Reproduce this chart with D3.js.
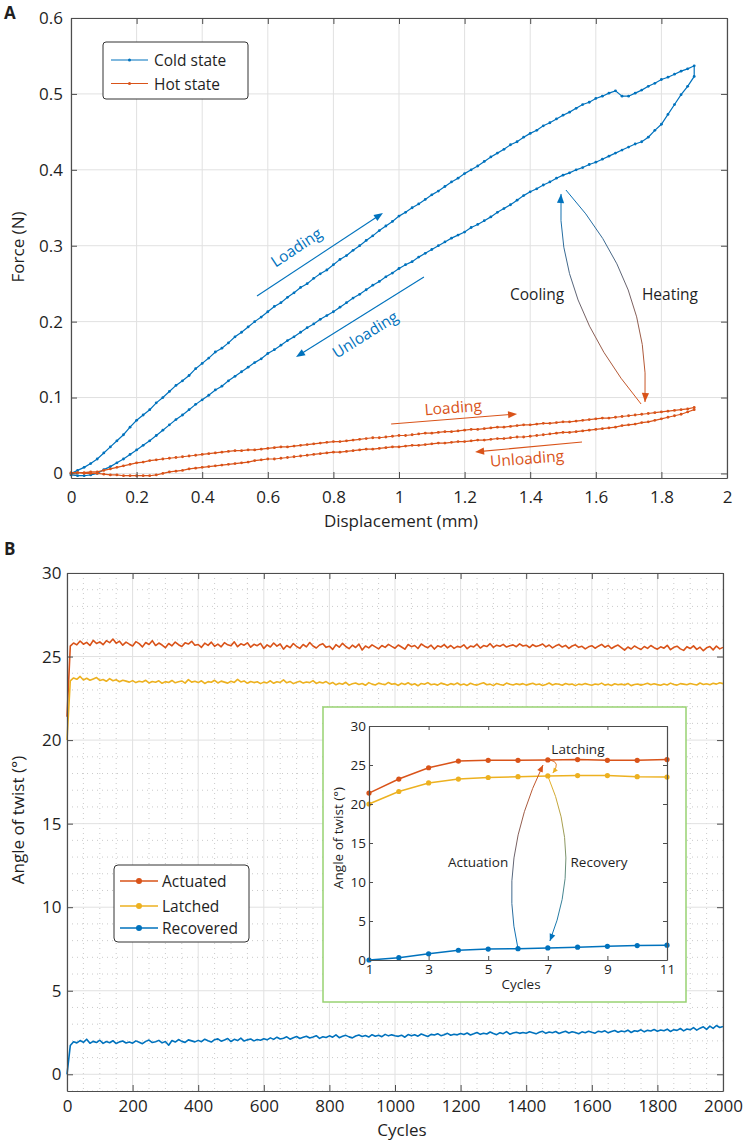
<!DOCTYPE html>
<html>
<head>
<meta charset="utf-8">
<script src="https://cdn.jsdelivr.net/npm/d3@7"></script>
<style>
  body { margin: 0; background: #fff; }
  svg { display: block; font-family: "Open Sans", sans-serif; }
</style>
</head>
<body>
<svg id="chart" width="746" height="1145"></svg>
<script>
// ---- Panel A : force vs displacement ----
var dispA = [0,0.02,0.04,0.06,0.08,0.1,0.12,0.14,0.16,0.18,0.2,0.22,0.24,0.26,0.28,0.3,0.32,0.34,0.36,0.38,
  0.4,0.42,0.44,0.46,0.48,0.5,0.52,0.54,0.56,0.58,0.6,0.62,0.64,0.66,0.68,0.7,0.72,0.74,0.76,0.78,
  0.8,0.82,0.84,0.86,0.88,0.9,0.92,0.94,0.96,0.98,1,1.02,1.04,1.06,1.08,1.1,1.12,1.14,1.16,1.18,
  1.2,1.22,1.24,1.26,1.28,1.3,1.32,1.34,1.36,1.38,1.4,1.42,1.44,1.46,1.48,1.5,1.52,1.54,1.56,1.58,
  1.6,1.62,1.64,1.66,1.68,1.7,1.72,1.74,1.76,1.78,1.8,1.82,1.84,1.86,1.88,1.9];

var coldLoad = [0.000,0.004,0.008,0.013,0.019,0.027,0.035,0.043,0.051,0.061,
  0.070,0.077,0.084,0.093,0.100,0.108,0.116,0.122,0.129,0.138,
  0.145,0.152,0.160,0.165,0.172,0.180,0.186,0.193,0.200,0.206,
  0.213,0.220,0.225,0.232,0.238,0.245,0.250,0.257,0.263,0.268,
  0.275,0.282,0.287,0.294,0.300,0.307,0.313,0.320,0.326,0.332,
  0.339,0.344,0.350,0.355,0.361,0.367,0.372,0.378,0.384,0.389,
  0.395,0.400,0.405,0.411,0.417,0.422,0.427,0.433,0.437,0.443,
  0.448,0.452,0.458,0.462,0.467,0.472,0.476,0.481,0.486,0.489,
  0.494,0.497,0.501,0.504,0.497,0.497,0.501,0.505,0.510,0.514,
  0.519,0.522,0.526,0.530,0.533,0.537];

var coldUnload = [-0.002,-0.003,-0.003,-0.002,0.000,0.005,0.009,0.014,0.019,0.025,
  0.031,0.037,0.043,0.050,0.057,0.064,0.071,0.077,0.084,0.091,
  0.097,0.103,0.110,0.115,0.122,0.128,0.134,0.140,0.146,0.151,
  0.158,0.163,0.169,0.175,0.180,0.186,0.192,0.197,0.203,0.208,
  0.213,0.219,0.225,0.231,0.236,0.242,0.248,0.253,0.259,0.264,
  0.270,0.275,0.279,0.285,0.290,0.295,0.300,0.305,0.310,0.314,
  0.318,0.324,0.328,0.333,0.338,0.344,0.349,0.354,0.360,0.366,
  0.371,0.375,0.380,0.384,0.389,0.393,0.396,0.400,0.403,0.407,
  0.410,0.414,0.418,0.422,0.426,0.430,0.434,0.437,0.443,0.452,
  0.460,0.473,0.486,0.499,0.510,0.523];

var hotLoad = [0.000,0.001,0.001,0.002,0.002,0.004,0.006,0.008,0.010,0.012,
  0.014,0.015,0.017,0.018,0.019,0.020,0.021,0.022,0.023,0.024,
  0.025,0.026,0.027,0.028,0.029,0.030,0.030,0.031,0.031,0.032,
  0.033,0.034,0.035,0.035,0.036,0.037,0.038,0.039,0.040,0.041,
  0.042,0.042,0.043,0.044,0.045,0.046,0.047,0.047,0.048,0.049,
  0.050,0.050,0.051,0.052,0.053,0.053,0.054,0.055,0.055,0.056,
  0.057,0.058,0.058,0.059,0.060,0.061,0.061,0.062,0.063,0.064,
  0.064,0.065,0.066,0.066,0.067,0.068,0.068,0.069,0.070,0.071,
  0.072,0.073,0.073,0.074,0.075,0.076,0.077,0.078,0.079,0.080,
  0.081,0.082,0.083,0.084,0.085,0.087];

var hotUnload = [0.001,0.001,0.000,0.000,0.000,-0.001,-0.002,-0.002,-0.003,-0.003,
  -0.003,-0.003,-0.003,-0.002,0.000,0.002,0.003,0.004,0.006,0.007,
  0.008,0.009,0.010,0.011,0.012,0.013,0.014,0.015,0.017,0.018,
  0.019,0.019,0.020,0.021,0.022,0.023,0.024,0.025,0.026,0.027,
  0.028,0.028,0.029,0.030,0.031,0.032,0.032,0.033,0.034,0.035,
  0.035,0.036,0.037,0.037,0.038,0.039,0.040,0.040,0.041,0.042,
  0.042,0.043,0.044,0.044,0.045,0.046,0.046,0.047,0.048,0.048,
  0.049,0.050,0.051,0.052,0.053,0.054,0.054,0.055,0.056,0.057,
  0.058,0.059,0.060,0.061,0.063,0.064,0.065,0.067,0.068,0.070,
  0.072,0.074,0.076,0.078,0.081,0.084];

var xTicksA = [0,0.2,0.4,0.6,0.8,1,1.2,1.4,1.6,1.8,2];
var yTicksA = [0,0.1,0.2,0.3,0.4,0.5,0.6];

// ---- Panel B : angle of twist over 2000 cycles (one sample every 10 cycles) ----
var cycleStepB = 10;
var actuated = [21.4,25.62,25.81,25.70,25.93,25.74,25.85,25.66,25.97,25.78,25.88,25.71,25.95,25.83,26.05,25.79,25.92,25.68,25.86,25.74,
  25.63,25.89,25.77,25.58,25.84,25.72,25.95,25.66,25.81,25.69,25.53,25.78,25.64,25.87,25.71,25.60,25.82,25.75,25.91,25.68,
  25.72,25.55,25.80,25.67,25.86,25.61,25.74,25.58,25.83,25.70,25.64,25.88,25.59,25.76,25.68,25.82,25.56,25.73,25.65,25.79,
  25.48,25.70,25.57,25.81,25.62,25.75,25.44,25.66,25.53,25.78,25.60,25.49,25.72,25.58,25.84,25.63,25.51,25.69,25.77,25.55,
  25.62,25.43,25.71,25.56,25.79,25.60,25.47,25.68,25.54,25.74,25.39,25.63,25.52,25.70,25.58,25.46,25.66,25.55,25.73,25.61,
  25.50,25.69,25.57,25.44,25.72,25.59,25.66,25.48,25.75,25.62,25.53,25.68,25.45,25.64,25.57,25.71,25.52,25.66,25.49,25.61,
  25.56,25.70,25.47,25.63,25.58,25.74,25.51,25.66,25.60,25.77,25.55,25.68,25.62,25.73,25.57,25.65,25.70,25.59,25.76,25.63,
  25.68,25.54,25.71,25.60,25.66,25.75,25.58,25.69,25.52,25.64,25.72,25.57,25.67,25.49,25.63,25.70,25.55,25.61,25.46,25.58,
  25.65,25.50,25.62,25.73,25.56,25.67,25.48,25.60,25.69,25.54,25.38,25.57,25.45,25.63,25.52,25.42,25.60,25.49,25.66,25.53,
  25.44,25.58,25.50,25.67,25.41,25.55,25.62,25.46,25.37,25.59,25.48,25.64,25.43,25.56,25.35,25.52,25.60,25.40,25.63,25.46,
  25.55];

var latched = [20.0,23.55,23.72,23.64,23.81,23.60,23.70,23.58,23.66,23.74,23.57,23.63,23.52,23.68,23.55,23.61,23.49,23.58,23.53,23.47,
  23.56,23.44,23.52,23.48,23.58,23.42,23.51,23.46,23.55,23.40,23.50,23.45,23.57,23.43,23.49,23.54,23.41,23.62,23.47,23.52,
  23.44,23.55,23.39,23.50,23.46,23.58,23.42,23.53,23.47,23.41,23.52,23.45,23.63,23.48,23.54,23.40,23.51,23.44,23.49,23.38,
  23.47,23.42,23.55,23.40,23.49,23.45,23.60,23.43,23.51,23.38,23.46,23.52,23.41,23.48,23.44,23.56,23.39,23.47,23.42,23.50,
  23.36,23.45,23.31,23.40,23.34,23.46,23.29,23.37,23.42,23.33,23.39,23.28,23.44,23.35,23.30,23.41,23.36,23.32,23.45,23.34,
  23.38,23.27,23.40,23.33,23.43,23.30,23.37,23.25,23.39,23.34,23.44,23.31,23.36,23.29,23.41,23.35,23.28,23.38,23.32,23.42,
  23.30,23.36,23.27,23.40,23.33,23.29,23.37,23.43,23.31,23.35,23.26,23.39,23.33,23.28,23.41,23.34,23.30,23.37,23.32,23.38,
  23.29,23.35,23.40,23.31,23.36,23.27,23.33,23.42,23.30,23.37,23.34,23.28,23.39,23.32,23.36,23.26,23.35,23.31,23.38,23.33,
  23.28,23.36,23.32,23.41,23.29,23.34,23.27,23.37,23.31,23.35,23.30,23.39,23.26,23.33,23.36,23.29,23.34,23.40,23.31,23.37,
  23.32,23.28,23.36,23.30,23.41,23.33,23.29,23.38,23.35,23.31,23.39,23.34,23.30,23.42,23.33,23.37,23.31,23.40,23.35,23.43,
  23.38];

var recovered = [0,1.72,1.95,1.88,2.02,1.91,2.10,1.86,1.97,1.90,2.04,1.85,1.96,1.89,2.01,1.84,1.94,1.99,1.87,1.93,
  1.86,2.00,1.92,1.83,1.97,2.05,1.90,1.95,2.03,1.88,1.96,1.74,2.02,1.93,2.08,1.97,1.91,2.06,2.00,1.94,
  2.03,1.95,2.10,2.01,1.93,2.07,2.12,1.98,2.05,2.14,1.96,2.09,2.02,2.16,1.99,2.06,2.11,2.00,2.08,2.04,
  2.13,2.06,2.18,2.09,2.22,2.11,2.16,2.24,2.10,2.19,2.26,2.14,2.21,2.28,2.17,2.23,2.31,2.15,2.25,2.20,
  2.30,2.22,2.36,2.19,2.27,2.33,2.24,2.18,2.29,2.35,2.26,2.32,2.23,2.37,2.28,2.34,2.25,2.39,2.30,2.36,
  2.31,2.27,2.34,2.22,2.38,2.30,2.36,2.28,2.41,2.33,2.26,2.39,2.35,2.43,2.31,2.37,2.45,2.34,2.40,2.36,
  2.44,2.38,2.47,2.35,2.42,2.50,2.39,2.46,2.41,2.53,2.44,2.37,2.49,2.43,2.55,2.40,2.47,2.52,2.45,2.50,
  2.46,2.54,2.48,2.42,2.51,2.57,2.45,2.53,2.49,2.56,2.44,2.52,2.58,2.47,2.55,2.50,2.43,2.54,2.49,2.57,
  2.51,2.46,2.58,2.53,2.60,2.48,2.56,2.62,2.52,2.59,2.55,2.64,2.50,2.61,2.57,2.66,2.54,2.63,2.59,2.68,
  2.58,2.65,2.61,2.70,2.56,2.67,2.63,2.74,2.60,2.71,2.66,2.79,2.64,2.76,2.84,2.69,2.88,2.75,2.92,2.80,
  2.86];

var xTicksB = [0,200,400,600,800,1000,1200,1400,1600,1800,2000];
var yTicksB = [0,5,10,15,20,25,30];

// ---- Inset : first 11 cycles ----
var cyclesInset = [1,2,3,4,5,6,7,8,9,10,11];
var actuatedInset = [21.4,23.2,24.65,25.5,25.6,25.6,25.65,25.7,25.6,25.6,25.7];
var latchedInset = [20.0,21.6,22.7,23.2,23.4,23.5,23.6,23.65,23.65,23.5,23.45];
var recoveredInset = [0,0.3,0.8,1.25,1.4,1.45,1.55,1.65,1.75,1.85,1.9];
var xTicksInset = [1,3,5,7,9,11];
var yTicksInset = [0,5,10,15,20,25,30];

var BLUE = '#0072BD', ORANGE = '#D95319', YELLOW = '#EDB120';
var AXIS = '#4d4d4d', TXT = '#1f1f1f';

var svg = d3.select('#chart');
var defs = svg.append('defs');

var xA = d3.scaleLinear().domain([0, 2]).range([71, 727]);
var yA = d3.scaleLinear().domain([-0.006, 0.6]).range([478, 18]);
var xB = d3.scaleLinear().domain([0, 2000]).range([67, 723]);
var yB = d3.scaleLinear().domain([-1, 30]).range([1091, 573]);
var xI = d3.scaleLinear().domain([1, 11]).range([369, 667]);
var yI = d3.scaleLinear().domain([0, 30]).range([960, 726]);

function fmtNum(d) { return String(+d.toFixed(1)); }

function drawGrid(x, y, xt, yt, minorX, minorY) {
    var g = svg.append('g');
    var xr = x.range(), yr = y.range();
    if (minorX) {
        g.selectAll('.mx').data(minorX).join('line')
            .attr('x1', function(d) { return x(d); }).attr('x2', function(d) { return x(d); })
            .attr('y1', yr[1]).attr('y2', yr[0])
            .attr('stroke', '#bdbdbd').attr('stroke-width', 0.8).attr('stroke-dasharray', '1,4');
        g.selectAll('.my').data(minorY).join('line')
            .attr('y1', function(d) { return y(d); }).attr('y2', function(d) { return y(d); })
            .attr('x1', xr[0]).attr('x2', xr[1])
            .attr('stroke', '#bdbdbd').attr('stroke-width', 0.8).attr('stroke-dasharray', '1,4');
    }
    g.selectAll('.gx').data(xt).join('line')
        .attr('x1', function(d) { return x(d); }).attr('x2', function(d) { return x(d); })
        .attr('y1', yr[1]).attr('y2', yr[0])
        .attr('stroke', '#e1e1e1').attr('stroke-width', 1);
    g.selectAll('.gy').data(yt).join('line')
        .attr('y1', function(d) { return y(d); }).attr('y2', function(d) { return y(d); })
        .attr('x1', xr[0]).attr('x2', xr[1])
        .attr('stroke', '#e1e1e1').attr('stroke-width', 1);
}

function drawFrame(x, y, o) {
    var g = svg.append('g');
    var xr = x.range(), yr = y.range();
    var parts = [
        [d3.axisBottom(x).tickValues(o.xt).tickFormat(o.xf).tickPadding(o.xPad), 'translate(0,' + yr[0] + ')'],
        [d3.axisTop(x).tickValues(o.xt).tickFormat(''), 'translate(0,' + yr[1] + ')'],
        [d3.axisLeft(y).tickValues(o.yt).tickFormat(o.yf).tickPadding(o.yPad), 'translate(' + xr[0] + ',0)'],
        [d3.axisRight(y).tickValues(o.yt).tickFormat(''), 'translate(' + xr[1] + ',0)']
    ];
    parts.forEach(function(p) {
        var a = g.append('g').attr('transform', p[1])
            .call(p[0].tickSize(-o.tick).tickSizeOuter(0));
        a.attr('font-family', null).attr('font-size', o.fs);
        a.select('.domain').attr('stroke', AXIS).attr('stroke-width', 1.2);
        a.selectAll('.tick line').attr('stroke', AXIS).attr('stroke-width', 1);
        a.selectAll('.tick text').attr('fill', TXT);
    });
}

function head(g, tip, ang, len, w, color) {
    var bx = tip[0] - len * Math.cos(ang), by = tip[1] - len * Math.sin(ang);
    var px = -Math.sin(ang) * w, py = Math.cos(ang) * w;
    g.append('path')
        .attr('d', 'M' + tip[0] + ',' + tip[1] + 'L' + (bx + px) + ',' + (by + py) + 'L' + (bx - px) + ',' + (by - py) + 'Z')
        .attr('fill', color);
}

function straightArrow(g, x, y, from, to, color) {
    var p0 = [x(from[0]), y(from[1])], p1 = [x(to[0]), y(to[1])];
    var ang = Math.atan2(p1[1] - p0[1], p1[0] - p0[0]);
    g.append('line').attr('x1', p0[0]).attr('y1', p0[1])
        .attr('x2', p1[0] - 6 * Math.cos(ang)).attr('y2', p1[1] - 6 * Math.sin(ang))
        .attr('stroke', color).attr('stroke-width', 1.1);
    head(g, p1, ang, 9, 3.6, color);
}

var gradId = 0;
function curvedArrow(g, x, y, from, ctrl, to, c0, c1, len, w) {
    var p0 = [x(from[0]), y(from[1])], c = [x(ctrl[0]), y(ctrl[1])], p2 = [x(to[0]), y(to[1])];
    var id = 'grad' + (gradId++);
    var grad = defs.append('linearGradient').attr('id', id).attr('gradientUnits', 'userSpaceOnUse')
        .attr('x1', p0[0]).attr('y1', p0[1]).attr('x2', p2[0]).attr('y2', p2[1]);
    grad.append('stop').attr('offset', 0).attr('stop-color', c0);
    grad.append('stop').attr('offset', 1).attr('stop-color', c1);
    var path = d3.path();
    path.moveTo(p0[0], p0[1]);
    path.quadraticCurveTo(c[0], c[1], p2[0], p2[1]);
    g.append('path').attr('d', path.toString()).attr('fill', 'none')
        .attr('stroke', 'url(#' + id + ')').attr('stroke-width', 1);
    head(g, p2, Math.atan2(p2[1] - c[1], p2[0] - c[0]), len, w, c1);
}

function label(g, x, y, pos, text, o) {
    return g.append('text')
        .attr('transform', 'translate(' + x(pos[0]) + ',' + y(pos[1]) + ') rotate(' + (o.rot || 0) + ')')
        .attr('text-anchor', 'middle').attr('dominant-baseline', 'central')
        .attr('font-size', o.fs).attr('fill', o.color || TXT).text(text);
}

// ================= Panel A =================
drawGrid(xA, yA, xTicksA, yTicksA);

var gA = svg.append('g');
var lineA = d3.line().x(function(d) { return xA(d[0]); }).y(function(d) { return yA(d[1]); });

function loop(load, unload) {
    var pts = load.map(function(v, i) { return [dispA[i], v]; });
    for (var i = unload.length - 1; i >= 0; i--) pts.push([dispA[i], unload[i]]);
    return pts;
}
[[loop(coldLoad, coldUnload), BLUE], [loop(hotLoad, hotUnload), ORANGE]].forEach(function(s) {
    gA.append('path').attr('d', lineA(s[0])).attr('fill', 'none')
        .attr('stroke', s[1]).attr('stroke-width', 1.2);
    gA.selectAll(null).data(s[0]).join('circle')
        .attr('cx', function(d) { return xA(d[0]); }).attr('cy', function(d) { return yA(d[1]); })
        .attr('r', 1.4).attr('fill', s[1]);
});

drawFrame(xA, yA, { xt: xTicksA, yt: yTicksA, xf: fmtNum, yf: fmtNum, xPad: 13, yPad: 8, tick: 6, fs: 17 });

// annotations A (positions in data units)
var annA = svg.append('g');
straightArrow(annA, xA, yA, [0.567, 0.2338], [0.951, 0.3431], BLUE);
straightArrow(annA, xA, yA, [1.076, 0.2588], [0.686, 0.1534], BLUE);
straightArrow(annA, xA, yA, [0.976, 0.0651], [1.360, 0.0783], ORANGE);
straightArrow(annA, xA, yA, [1.558, 0.0414], [1.232, 0.0283], ORANGE);
curvedArrow(annA, xA, yA, [1.738, 0.0915], [1.476, 0.2272], [1.494, 0.3682], ORANGE, BLUE, 9, 3.6);
curvedArrow(annA, xA, yA, [1.509, 0.3734], [1.768, 0.2496], [1.750, 0.0941], BLUE, ORANGE, 9, 3.6);
label(annA, xA, yA, [0.686, 0.2983], 'Loading', { fs: 15.5, rot: -33.5, color: BLUE });
label(annA, xA, yA, [0.896, 0.1837], 'Unloading', { fs: 15.5, rot: -32, color: BLUE });
label(annA, xA, yA, [1.421, 0.2364], 'Cooling', { fs: 15.5 });
label(annA, xA, yA, [1.826, 0.2364], 'Heating', { fs: 15.5 });
label(annA, xA, yA, [1.165, 0.0875], 'Loading', { fs: 15.5, rot: -4.5, color: ORANGE });
label(annA, xA, yA, [1.390, 0.0204], 'Unloading', { fs: 15.5, rot: -4.5, color: ORANGE });

// axis titles A
svg.append('text').attr('x', 401).attr('y', 527).attr('text-anchor', 'middle')
    .attr('font-size', 17).attr('fill', TXT).text('Displacement (mm)');
svg.append('text').attr('transform', 'translate(24,247) rotate(-90)').attr('text-anchor', 'middle')
    .attr('font-size', 17).attr('fill', TXT).text('Force (N)');
svg.append('text').attr('x', 4).attr('y', 19).attr('font-size', 17).attr('font-weight', 'bold')
    .attr('fill', TXT).text('A');

// legend A
var legA = svg.append('g');
legA.append('rect').attr('x', 103).attr('y', 42).attr('width', 145).attr('height', 57).attr('rx', 3)
    .attr('fill', '#fff').attr('stroke', '#333').attr('stroke-width', 1);
[['Cold state', BLUE, 60], ['Hot state', ORANGE, 83.5]].forEach(function(e) {
    legA.append('line').attr('x1', 111).attr('x2', 148).attr('y1', e[2]).attr('y2', e[2])
        .attr('stroke', e[1]).attr('stroke-width', 1.1);
    legA.append('circle').attr('cx', 129.5).attr('cy', e[2]).attr('r', 1.5).attr('fill', e[1]);
    legA.append('text').attr('x', 154).attr('y', e[2]).attr('dominant-baseline', 'central')
        .attr('font-size', 15.5).attr('fill', TXT).text(e[0]);
});

// ================= Panel B =================
var minorXB = d3.range(0, 2001, 50).filter(function(d) { return d % 200 !== 0; });
var minorYB = d3.range(-1, 31, 1).filter(function(d) { return d % 5 !== 0; });
drawGrid(xB, yB, xTicksB, yTicksB, minorXB, minorYB);

var gB = svg.append('g');
var lineB = d3.line().x(function(d, i) { return xB(i * cycleStepB); }).y(function(d) { return yB(d); });
[[actuated, ORANGE], [latched, YELLOW], [recovered, BLUE]].forEach(function(s) {
    gB.append('path').attr('d', lineB(s[0])).attr('fill', 'none')
        .attr('stroke', s[1]).attr('stroke-width', 1.6).attr('stroke-linejoin', 'round');
});

drawFrame(xB, yB, { xt: xTicksB, yt: yTicksB, xf: function(d) { return d; }, yf: function(d) { return d; },
    xPad: 9, yPad: 5.5, tick: 6, fs: 17 });

svg.append('text').attr('x', 402).attr('y', 1136).attr('text-anchor', 'middle')
    .attr('font-size', 17).attr('fill', TXT).text('Cycles');
svg.append('text').attr('transform', 'translate(24,820) rotate(-90)').attr('text-anchor', 'middle')
    .attr('font-size', 17).attr('fill', TXT).text('Angle of twist (°)');
svg.append('text').attr('x', 4).attr('y', 555).attr('font-size', 17).attr('font-weight', 'bold')
    .attr('fill', TXT).text('B');

// legend B
var legB = svg.append('g');
legB.append('rect').attr('x', 114).attr('y', 865).attr('width', 135).attr('height', 77).attr('rx', 4)
    .attr('fill', '#fff').attr('stroke', '#333').attr('stroke-width', 1);
[['Actuated', ORANGE, 881], ['Latched', YELLOW, 906], ['Recovered', BLUE, 928]].forEach(function(e) {
    legB.append('line').attr('x1', 120).attr('x2', 158).attr('y1', e[2]).attr('y2', e[2])
        .attr('stroke', e[1]).attr('stroke-width', 1.4);
    legB.append('circle').attr('cx', 139).attr('cy', e[2]).attr('r', 3).attr('fill', e[1]);
    legB.append('text').attr('x', 162).attr('y', e[2]).attr('dominant-baseline', 'central')
        .attr('font-size', 15.5).attr('fill', TXT).text(e[0]);
});

// ================= Inset =================
svg.append('rect').attr('x', 323).attr('y', 707).attr('width', 363).attr('height', 295)
    .attr('fill', '#fff').attr('stroke', '#98d272').attr('stroke-width', 1.5);

var gI = svg.append('g');
var lineI = d3.line().x(function(d, i) { return xI(cyclesInset[i]); }).y(function(d) { return yI(d); });
[[actuatedInset, ORANGE], [latchedInset, YELLOW], [recoveredInset, BLUE]].forEach(function(s) {
    gI.append('path').attr('d', lineI(s[0])).attr('fill', 'none')
        .attr('stroke', s[1]).attr('stroke-width', 1.5);
    gI.selectAll(null).data(s[0]).join('circle')
        .attr('cx', function(d, i) { return xI(cyclesInset[i]); }).attr('cy', function(d) { return yI(d); })
        .attr('r', 2.6).attr('fill', s[1]);
});

drawFrame(xI, yI, { xt: xTicksInset, yt: yTicksInset, xf: function(d) { return d; }, yf: function(d) { return d; },
    xPad: 4, yPad: 3, tick: 4, fs: 13.5 });

var annI = svg.append('g');
curvedArrow(annI, xI, yI, [6, 1.45], [5.31, 12.95], [6.84, 25.0], BLUE, ORANGE, 7, 3);
curvedArrow(annI, xI, yI, [7.0, 23.6], [8.18, 13.14], [7.07, 2.44], YELLOW, BLUE, 7, 3);
curvedArrow(annI, xI, yI, [7.07, 25.64], [7.45, 25.4], [7.17, 23.97], ORANGE, YELLOW, 5, 2.5);
label(annI, xI, yI, [8.01, 27.05], 'Latching', { fs: 13.5 });
label(annI, xI, yI, [4.66, 12.56], 'Actuation', { fs: 13.5 });
label(annI, xI, yI, [8.72, 12.56], 'Recovery', { fs: 13.5 });

svg.append('text').attr('x', 521).attr('y', 989).attr('text-anchor', 'middle')
    .attr('font-size', 13.5).attr('fill', TXT).text('Cycles');
svg.append('text').attr('transform', 'translate(343,838) rotate(-90)').attr('text-anchor', 'middle')
    .attr('font-size', 13.5).attr('fill', TXT).text('Angle of twist (°)');
</script>
</body>
</html>
